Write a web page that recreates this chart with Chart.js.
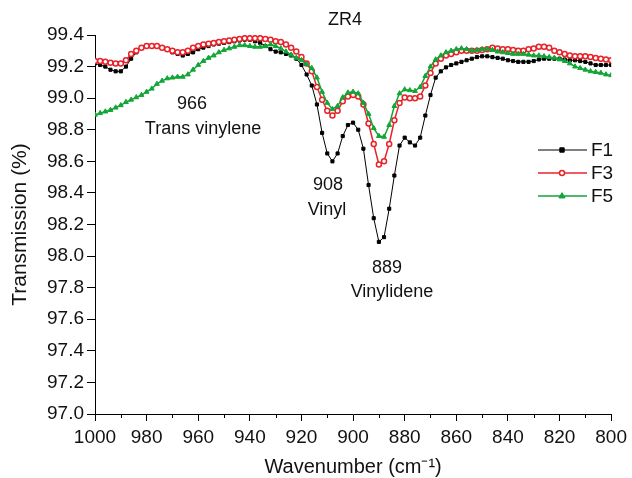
<!DOCTYPE html>
<html><head><meta charset="utf-8">
<script src="https://cdn.jsdelivr.net/npm/chart.js@4.4.1/dist/chart.umd.min.js"></script>
<style>html,body{margin:0;padding:0;background:#fff}#wrap{width:632px;height:478px;position:relative}</style>
</head><body><div id="wrap"><canvas id="c" width="632" height="478"></canvas></div>
<script>
const chartTitle = "ZR4";
const xTitle = "Wavenumber (cm\u207B\u00B9)";
const yTitle = "Transmission (%)";
const seriesNames = ["F1", "F3", "F5"];
const wavenumbers = [1000,998,996,994,992,990,988,986,984,982,980,978,976,974,972,970,968,966,964,962,960,958,956,954,952,950,948,946,944,942,940,938,936,934,932,930,928,926,924,922,920,918,916,914,912,910,908,906,904,902,900,898,896,894,892,890,888,886,884,882,880,878,876,874,872,870,868,866,864,862,860,858,856,854,852,850,848,846,844,842,840,838,836,834,832,830,828,826,824,822,820,818,816,814,812,810,808,806,804,802,800];
const f1 = [99.22,99.21,99.20,99.18,99.17,99.17,99.20,99.25,99.29,99.32,99.33,99.33,99.33,99.32,99.31,99.29,99.28,99.27,99.28,99.29,99.31,99.32,99.33,99.34,99.345,99.35,99.355,99.36,99.365,99.37,99.37,99.36,99.35,99.33,99.31,99.295,99.29,99.28,99.27,99.25,99.21,99.15,99.08,98.96,98.78,98.65,98.60,98.65,98.76,98.83,98.845,98.80,98.68,98.45,98.24,98.09,98.12,98.30,98.51,98.70,98.75,98.72,98.70,98.75,98.89,99.02,99.13,99.17,99.195,99.21,99.22,99.23,99.24,99.25,99.26,99.265,99.265,99.26,99.255,99.25,99.24,99.235,99.23,99.23,99.23,99.235,99.245,99.25,99.25,99.25,99.25,99.245,99.24,99.24,99.235,99.23,99.22,99.21,99.21,99.21,99.21];
const f3 = [99.235,99.235,99.23,99.225,99.22,99.22,99.24,99.28,99.30,99.32,99.33,99.33,99.33,99.32,99.31,99.30,99.29,99.29,99.30,99.32,99.33,99.34,99.345,99.35,99.355,99.36,99.365,99.37,99.375,99.38,99.38,99.38,99.38,99.375,99.37,99.36,99.355,99.34,99.32,99.295,99.26,99.22,99.17,99.07,98.99,98.92,98.89,98.92,98.98,99.01,99.02,99.01,98.96,98.84,98.71,98.58,98.60,98.71,98.86,98.97,99.005,99.00,99.00,99.01,99.08,99.16,99.22,99.25,99.27,99.28,99.29,99.30,99.30,99.30,99.30,99.305,99.31,99.32,99.315,99.31,99.31,99.305,99.30,99.30,99.31,99.315,99.325,99.325,99.32,99.30,99.29,99.28,99.27,99.265,99.265,99.265,99.26,99.255,99.25,99.245,99.24];
const f5 = [98.895,98.905,98.915,98.925,98.94,98.955,98.975,98.99,99.005,99.02,99.04,99.06,99.09,99.11,99.125,99.13,99.135,99.135,99.15,99.18,99.21,99.235,99.255,99.27,99.29,99.305,99.315,99.325,99.335,99.335,99.33,99.325,99.325,99.33,99.34,99.33,99.315,99.295,99.275,99.255,99.24,99.215,99.19,99.13,99.04,98.97,98.93,98.95,99.005,99.035,99.04,99.03,98.97,98.90,98.81,98.76,98.755,98.83,98.95,99.03,99.055,99.05,99.045,99.07,99.14,99.20,99.245,99.27,99.29,99.30,99.31,99.315,99.31,99.30,99.305,99.31,99.31,99.305,99.295,99.29,99.285,99.28,99.28,99.28,99.275,99.27,99.27,99.265,99.26,99.255,99.245,99.235,99.22,99.20,99.19,99.18,99.17,99.165,99.16,99.15,99.145];
const annotations = [
  {text: "966", x: 192, y: 104},
  {text: "Trans vinylene", x: 203, y: 129},
  {text: "908", x: 328, y: 185},
  {text: "Vinyl", x: 327, y: 210},
  {text: "889", x: 387, y: 268},
  {text: "Vinylidene", x: 392, y: 292}
];

const FONT = "'Liberation Sans', Arial, sans-serif";
const colors = ["#000000", "#e8232a", "#12a537"];
function pts(vals){ return wavenumbers.map((w,i)=>({x:w, y:vals[i]})); }

function drawMarker(ctx, style, r, x, y){
  if (style === 'rect') { ctx.rect(x - r, y - r, 2*r, 2*r); }
  else if (style === 'triangle') { ctx.moveTo(x, y - r*1.2); ctx.lineTo(x + r*1.1, y + r*0.7); ctx.lineTo(x - r*1.1, y + r*0.7); ctx.closePath(); }
  else { ctx.arc(x, y, r, 0, Math.PI*2); }
}

const textPlugin = {
  id: 'texts',
  afterDraw(chart) {
    const ctx = chart.ctx;
    ctx.save();
    ctx.fillStyle = '#111';
    ctx.textAlign = 'center';
    ctx.textBaseline = 'middle';
    ctx.font = "18px " + FONT;
    ctx.fillText(chartTitle, 345, 20);
    annotations.forEach(a => ctx.fillText(a.text, a.x, a.y));
    const xs = chart.scales.x;
    ctx.strokeStyle = '#000'; ctx.lineWidth = 1;
    for (let v = 990; v > 800; v -= 20) {
      const px = Math.round(xs.getPixelForValue(v)) + 0.5;
      ctx.beginPath(); ctx.moveTo(px, xs.top); ctx.lineTo(px, xs.top + 4); ctx.stroke();
    }
    const rows = [150, 173, 196];
    chart.data.datasets.forEach((ds, i) => {
      const y = rows[i];
      ctx.strokeStyle = ds.borderColor; ctx.lineWidth = ds.borderWidth;
      ctx.beginPath(); ctx.moveTo(538, y); ctx.lineTo(587, y); ctx.stroke();
      ctx.fillStyle = ds.pointBackgroundColor; ctx.strokeStyle = ds.borderColor; ctx.lineWidth = ds.pointBorderWidth;
      ctx.beginPath();
      drawMarker(ctx, ds.pointStyle, ds.pointRadius, 562, y);
      ctx.fill(); ctx.stroke();
      ctx.fillStyle = '#111'; ctx.textAlign = 'left'; ctx.font = "19px " + FONT;
      ctx.fillText(ds.label, 591, y + 1);
    });
    ctx.restore();
  }
};

new Chart(document.getElementById('c'), {
  type: 'line',
  data: {
    datasets: [
      {label: seriesNames[0], data: pts(f1), borderColor: colors[0], backgroundColor: colors[0], pointBackgroundColor: colors[0], borderWidth: 1, pointStyle: 'rect', pointRadius: 2.2, pointBorderWidth: 1, order: 3, tension: 0},
      {label: seriesNames[1], data: pts(f3), borderColor: colors[1], backgroundColor: '#fff', pointBackgroundColor: '#fff', borderWidth: 1.5, pointStyle: 'circle', pointRadius: 2.5, pointBorderWidth: 1.5, order: 2, tension: 0},
      {label: seriesNames[2], data: pts(f5), borderColor: colors[2], backgroundColor: colors[2], pointBackgroundColor: colors[2], borderWidth: 1.5, pointStyle: 'triangle', pointRadius: 2.8, pointBorderWidth: 1, order: 1, tension: 0}
    ]
  },
  options: {
    responsive: false, animation: false,
    layout: {padding: {top: 35, right: 20, left: 0, bottom: 0}},
    plugins: {legend: {display: false}, tooltip: {enabled: false}},
    scales: {
      x: {
        type: 'linear', min: 800, max: 1000, reverse: true,
        afterFit: s => { s.height = 64; },
        ticks: {stepSize: 20, color: '#111', font: {family: FONT, size: 19}, padding: 5, maxRotation: 0, autoSkip: false, callback: v => String(v)},
        grid: {drawOnChartArea: false, color: '#000', tickLength: 7, tickWidth: 1},
        border: {color: '#000', width: 1},
        title: {display: true, text: xTitle, color: '#111', font: {family: FONT, size: 20, lineHeight: 1}, padding: {top: 0, bottom: 1}}
      },
      y: {
        min: 97.0, max: 99.4,
        afterFit: s => { s.width = 95; },
        ticks: {stepSize: 0.2, color: '#111', font: {family: FONT, size: 19}, padding: 3, callback: v => Number(v).toFixed(1)},
        grid: {drawOnChartArea: false, color: '#000', tickLength: 8, tickWidth: 1},
        border: {color: '#000', width: 1},
        title: {display: true, text: yTitle, color: '#111', font: {family: FONT, size: 21, lineHeight: 1}, padding: {top: 10, bottom: 0}}
      }
    }
  },
  plugins: [textPlugin]
});
</script></body></html>
